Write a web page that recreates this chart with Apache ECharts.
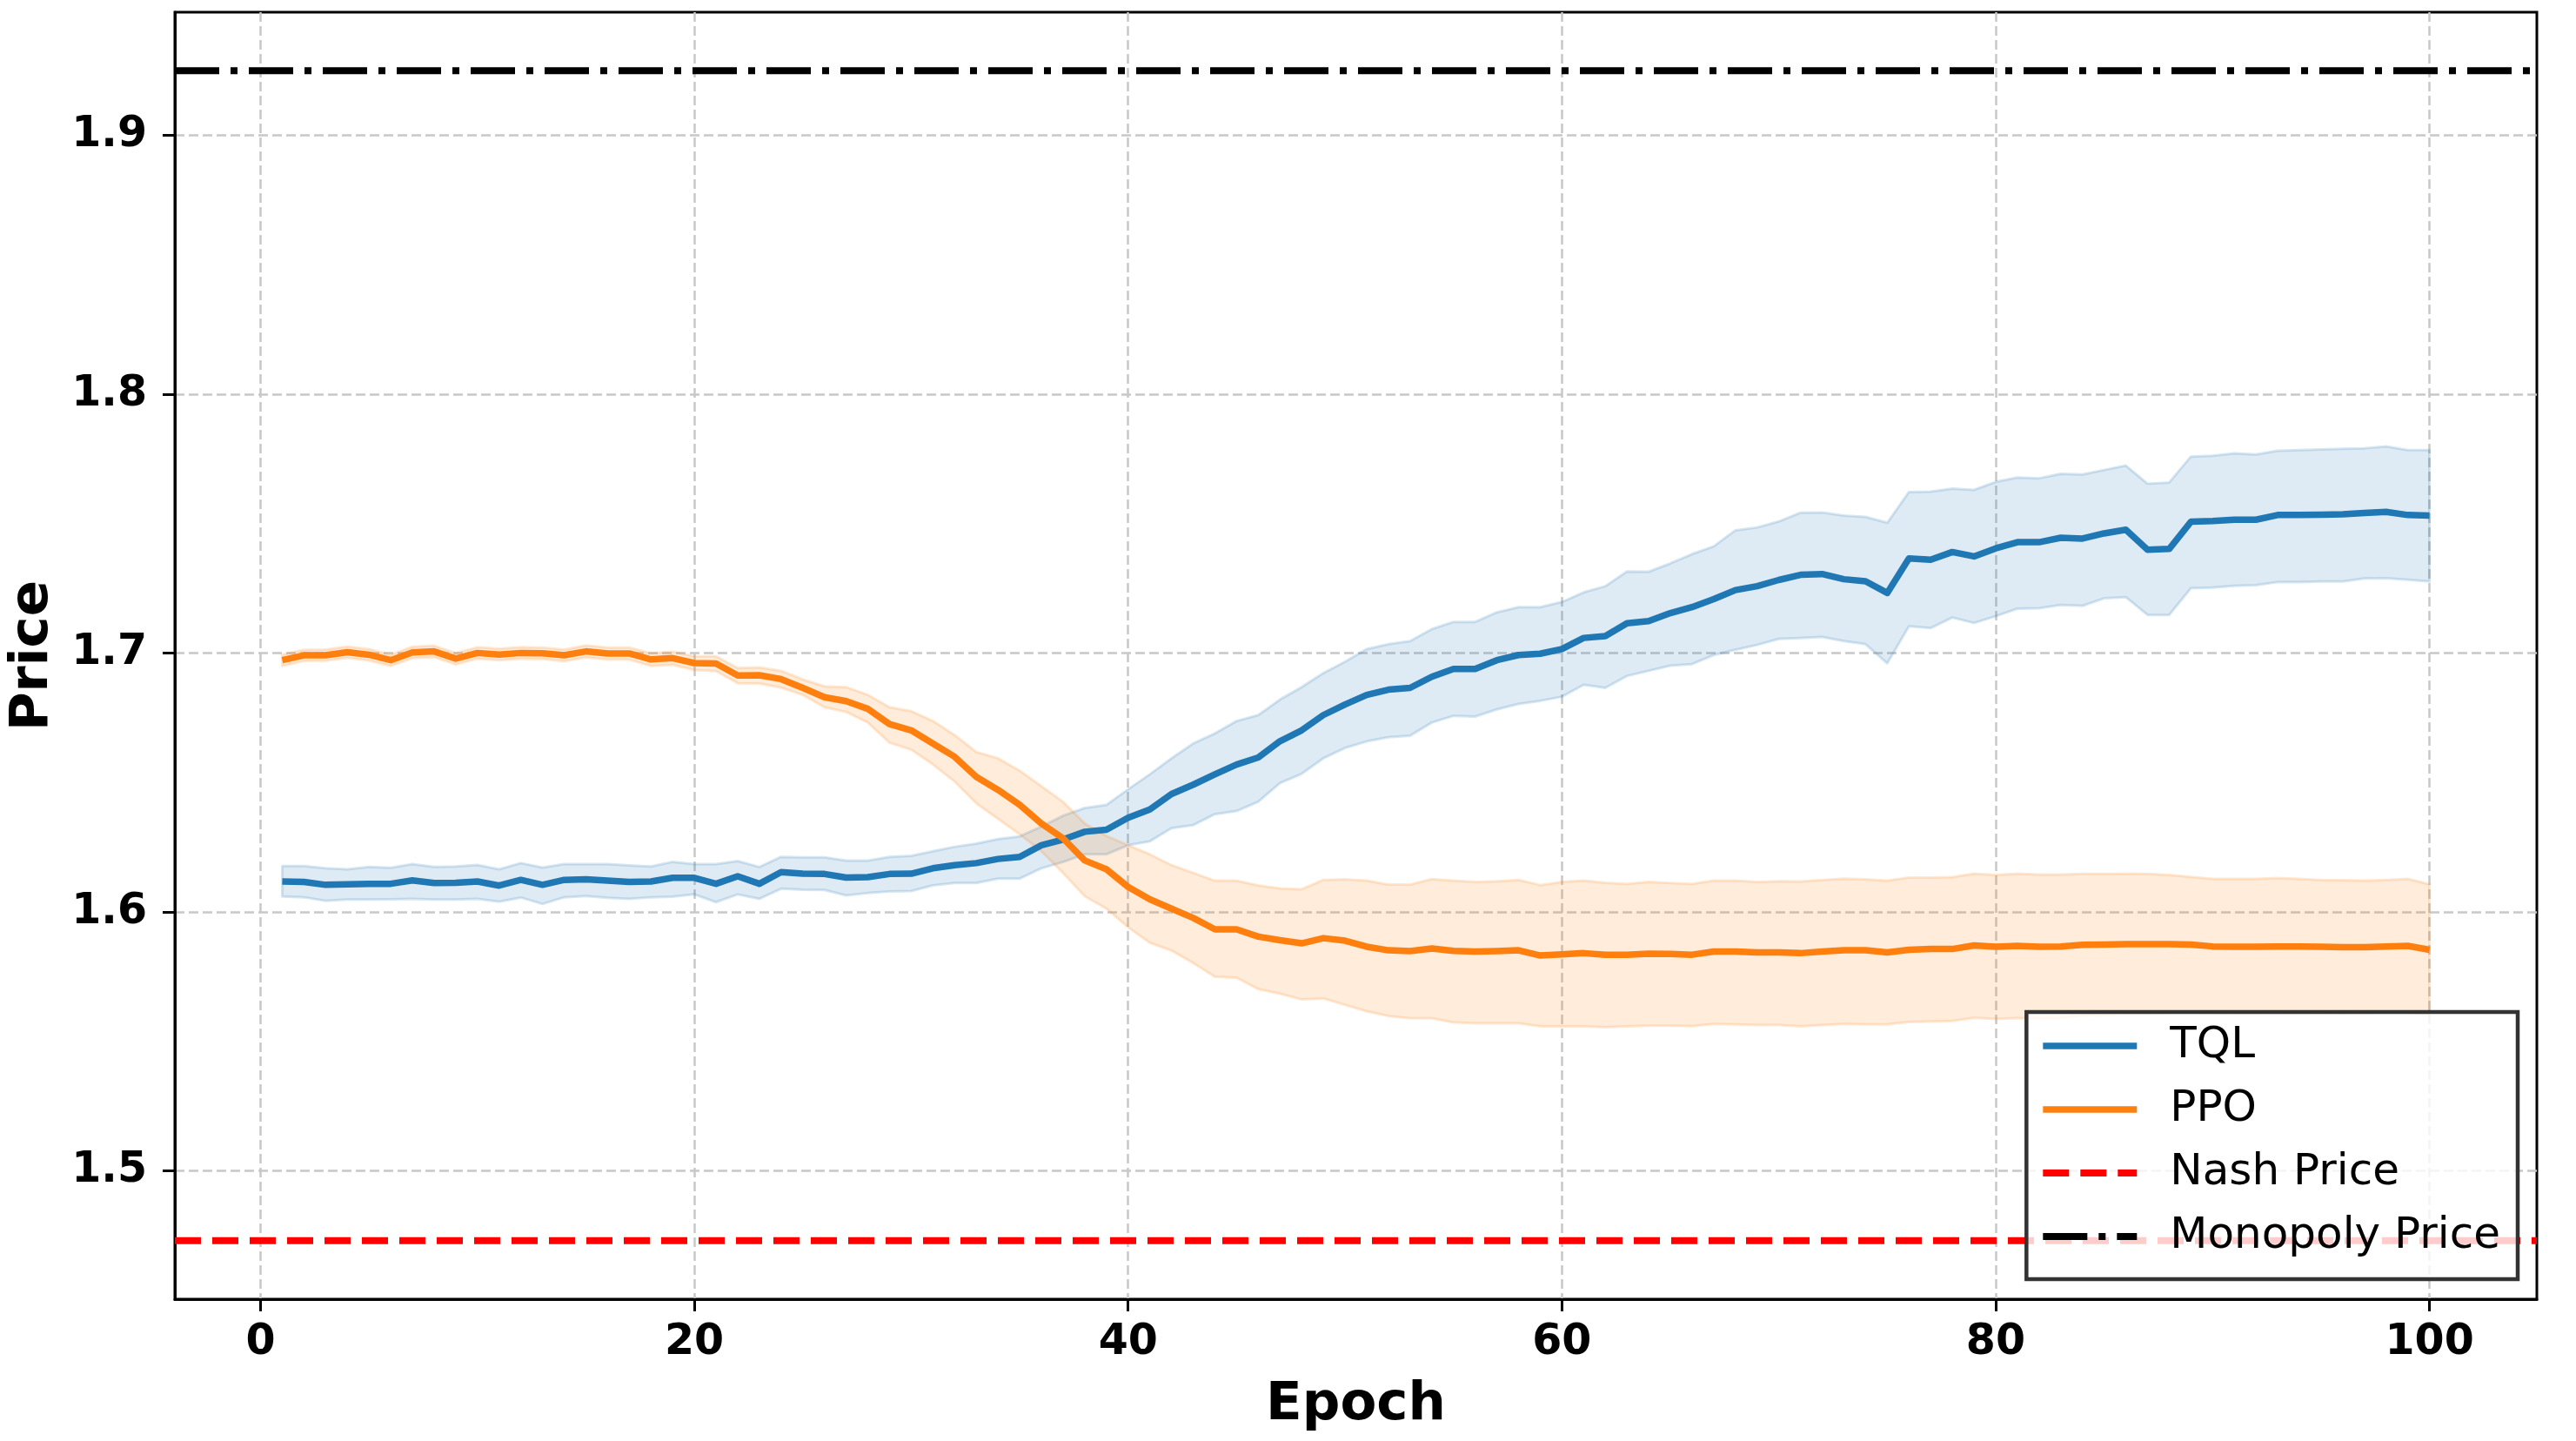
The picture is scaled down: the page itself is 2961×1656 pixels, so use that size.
<!DOCTYPE html>
<html><head><meta charset="utf-8">
<script src="https://cdn.jsdelivr.net/npm/echarts@6/dist/echarts.min.js"></script>
<style>html,body{margin:0;padding:0;background:#fff;overflow:hidden}#c{width:2961px;height:1656px}</style>
</head><body><div id="c"></div>
<script>
const EPOCHS = Array.from({length: 100}, (_, i) => i + 1);
const X_TICKS = [0, 20, 40, 60, 80, 100];
const Y_TICKS = [1.5, 1.6, 1.7, 1.8, 1.9];
const NASH = 1.4729;
const MONOPOLY = 1.9250;

const TQL_MEAN = [
1.6117,1.6115,1.6104,1.6106,1.6108,1.6108,1.6121,1.6111,1.6112,1.6117,
1.6101,1.6123,1.6104,1.6123,1.6125,1.6120,1.6115,1.6117,1.6131,1.6131,
1.6108,1.6137,1.6108,1.6153,1.6147,1.6146,1.6132,1.6134,1.6146,1.6147,
1.6168,1.6180,1.6188,1.6204,1.6212,1.6257,1.6279,1.6309,1.6317,1.6363,
1.6395,1.6455,1.6491,1.6531,1.6569,1.6596,1.6659,1.6701,1.6760,1.6801,
1.6838,1.6858,1.6865,1.6908,1.6938,1.6938,1.6972,1.6992,1.6997,1.7015,
1.7058,1.7065,1.7115,1.7123,1.7154,1.7177,1.7208,1.7243,1.7258,1.7282,
1.7302,1.7305,1.7285,1.7277,1.7232,1.7365,1.7360,1.7390,1.7373,1.7404,
1.7428,1.7428,1.7445,1.7442,1.7462,1.7476,1.7399,1.7402,1.7507,1.7510,
1.7515,1.7515,1.7533,1.7533,1.7534,1.7536,1.7541,1.7545,1.7533,1.7531];
const TQL_UPPER = [
1.6177,1.6177,1.6168,1.6164,1.6173,1.6170,1.6184,1.6173,1.6175,1.6181,
1.6164,1.6188,1.6171,1.6184,1.6184,1.6184,1.6179,1.6175,1.6193,1.6184,
1.6184,1.6196,1.6173,1.6212,1.6210,1.6210,1.6198,1.6198,1.6212,1.6216,
1.6234,1.6251,1.6263,1.6281,1.6291,1.6329,1.6371,1.6401,1.6413,1.6473,
1.6531,1.6593,1.6650,1.6689,1.6737,1.6760,1.6820,1.6868,1.6922,1.6966,
1.7015,1.7034,1.7046,1.7092,1.7120,1.7120,1.7157,1.7177,1.7177,1.7197,
1.7234,1.7258,1.7315,1.7314,1.7346,1.7382,1.7412,1.7474,1.7485,1.7508,
1.7542,1.7543,1.7531,1.7526,1.7503,1.7622,1.7623,1.7635,1.7630,1.7661,
1.7678,1.7675,1.7692,1.7690,1.7707,1.7724,1.7654,1.7659,1.7759,1.7762,
1.7771,1.7767,1.7781,1.7784,1.7786,1.7789,1.7791,1.7798,1.7784,1.7784];
const TQL_LOWER = [
1.6059,1.6056,1.6042,1.6047,1.6047,1.6048,1.6050,1.6047,1.6047,1.6050,
1.6039,1.6055,1.6030,1.6056,1.6061,1.6054,1.6050,1.6056,1.6058,1.6067,
1.6037,1.6067,1.6050,1.6089,1.6085,1.6084,1.6063,1.6072,1.6078,1.6080,
1.6102,1.6111,1.6111,1.6128,1.6128,1.6168,1.6192,1.6222,1.6222,1.6257,
1.6272,1.6323,1.6335,1.6377,1.6389,1.6425,1.6497,1.6533,1.6593,1.6633,
1.6658,1.6674,1.6680,1.6731,1.6757,1.6754,1.6782,1.6803,1.6815,1.6831,
1.6877,1.6865,1.6911,1.6931,1.6951,1.6957,1.6992,1.7012,1.7031,1.7054,
1.7058,1.7062,1.7046,1.7034,1.6960,1.7103,1.7096,1.7137,1.7116,1.7142,
1.7171,1.7173,1.7185,1.7182,1.7211,1.7216,1.7147,1.7147,1.7250,1.7253,
1.7259,1.7262,1.7274,1.7274,1.7276,1.7276,1.7288,1.7289,1.7283,1.7276];

const PPO_MEAN = [
1.6972,1.6991,1.6991,1.7003,1.6993,1.6972,1.7002,1.7006,1.6978,1.7000,
1.6994,1.7000,1.6999,1.6991,1.7006,1.6998,1.6998,1.6975,1.6980,1.6961,
1.6959,1.6913,1.6914,1.6899,1.6865,1.6829,1.6814,1.6784,1.6725,1.6701,
1.6650,1.6599,1.6521,1.6471,1.6413,1.6341,1.6284,1.6198,1.6164,1.6096,
1.6048,1.6012,1.5976,1.5932,1.5932,1.5904,1.5890,1.5878,1.5898,1.5888,
1.5865,1.5851,1.5848,1.5858,1.5849,1.5846,1.5848,1.5851,1.5831,1.5835,
1.5840,1.5834,1.5834,1.5838,1.5837,1.5834,1.5846,1.5846,1.5843,1.5843,
1.5840,1.5846,1.5851,1.5851,1.5843,1.5853,1.5856,1.5856,1.5870,1.5865,
1.5868,1.5865,1.5866,1.5872,1.5873,1.5875,1.5875,1.5875,1.5873,1.5866,
1.5865,1.5865,1.5866,1.5866,1.5865,1.5863,1.5863,1.5866,1.5868,1.5853];
const PPO_UPPER = [
1.6994,1.7012,1.7013,1.7025,1.7015,1.6993,1.7024,1.7028,1.7000,1.7022,
1.7016,1.7022,1.7021,1.7013,1.7029,1.7021,1.7021,1.6999,1.7005,1.6987,
1.6987,1.6942,1.6944,1.6931,1.6898,1.6871,1.6868,1.6838,1.6790,1.6775,
1.6737,1.6683,1.6617,1.6593,1.6545,1.6485,1.6425,1.6341,1.6293,1.6257,
1.6222,1.6180,1.6150,1.6120,1.6120,1.6102,1.6090,1.6087,1.6123,1.6125,
1.6120,1.6105,1.6105,1.6126,1.6120,1.6115,1.6118,1.6123,1.6103,1.6115,
1.6120,1.6112,1.6108,1.6115,1.6111,1.6108,1.6120,1.6120,1.6115,1.6118,
1.6117,1.6123,1.6128,1.6125,1.6120,1.6132,1.6132,1.6134,1.6147,1.6142,
1.6147,1.6144,1.6144,1.6146,1.6146,1.6147,1.6146,1.6142,1.6135,1.6127,
1.6127,1.6127,1.6130,1.6127,1.6123,1.6122,1.6120,1.6123,1.6127,1.6106];
const PPO_LOWER = [
1.6950,1.6969,1.6970,1.6981,1.6971,1.6950,1.6980,1.6984,1.6956,1.6978,
1.6972,1.6978,1.6977,1.6968,1.6983,1.6975,1.6974,1.6950,1.6954,1.6934,
1.6930,1.6883,1.6882,1.6866,1.6838,1.6790,1.6772,1.6731,1.6653,1.6626,
1.6569,1.6503,1.6419,1.6359,1.6299,1.6234,1.6150,1.6060,1.6012,1.5940,
1.5880,1.5850,1.5802,1.5749,1.5745,1.5701,1.5683,1.5661,1.5665,1.5640,
1.5615,1.5597,1.5588,1.5588,1.5572,1.5569,1.5569,1.5569,1.5557,1.5557,
1.5557,1.5554,1.5557,1.5560,1.5560,1.5558,1.5566,1.5565,1.5562,1.5562,
1.5557,1.5562,1.5566,1.5565,1.5565,1.5574,1.5576,1.5578,1.5590,1.5586,
1.5589,1.5586,1.5588,1.5598,1.5600,1.5603,1.5604,1.5608,1.5611,1.5605,
1.5603,1.5603,1.5602,1.5605,1.5607,1.5604,1.5606,1.5609,1.5609,1.5600];

const X_MIN = -3.95, X_MAX = 104.95;
const Y_MIN = 1.4503, Y_MAX = 1.9476;

const FONT = 'DejaVu Sans';
const pairs = (ys) => EPOCHS.map((x, i) => [x, ys[i]]);

function bandSeries(lower, upper, rgb) {
  return {
    type: 'custom', silent: true, z: 1, clip: true, animation: false,
    data: EPOCHS.map((x, i) => [x, lower[i], upper[i]]),
    encode: { x: 0, y: [1, 2] },
    renderItem: (params, api) => {
      if (params.dataIndex !== 0) return null;
      const pts = [];
      for (let i = 0; i < EPOCHS.length; i++) pts.push(api.coord([EPOCHS[i], upper[i]]));
      for (let i = EPOCHS.length - 1; i >= 0; i--) pts.push(api.coord([EPOCHS[i], lower[i]]));
      return {
        type: 'polygon', shape: { points: pts },
        style: { fill: 'rgba(' + rgb + ',0.15)', stroke: 'rgba(' + rgb + ',0.18)', lineWidth: 3, lineJoin: 'round' }
      };
    }
  };
}

const gridStyle = { show: true, lineStyle: { color: '#c8c8c8', width: 2.5, type: [11, 5] } };

const option = {
  backgroundColor: '#ffffff',
  animation: false,
  grid: { left: 198, right: 45, top: 14, bottom: 163, show: true, borderColor: '#000', borderWidth: 3, backgroundColor: 'transparent', containLabel: false },
  xAxis: {
    type: 'value', min: X_MIN, max: X_MAX,
    name: 'Epoch', nameLocation: 'middle', nameGap: 92,
    nameTextStyle: { fontFamily: FONT, fontWeight: 'bold', fontSize: 61, color: '#000' },
    axisLine: { show: true, onZero: false, lineStyle: { color: '#000', width: 3 } },
    axisTick: { show: true, customValues: X_TICKS, length: 14, lineStyle: { color: '#000', width: 3 } },
    axisLabel: { show: true, customValues: X_TICKS, margin: 26, fontFamily: FONT, fontWeight: 'bold', fontSize: 49, color: '#000',
      formatter: v => String(Math.round(v)) },
    splitLine: gridStyle
  },
  yAxis: {
    type: 'value', min: Y_MIN, max: Y_MAX,
    name: 'Price', nameLocation: 'middle', nameGap: 132,
    nameTextStyle: { fontFamily: FONT, fontWeight: 'bold', fontSize: 61, color: '#000' },
    axisLine: { show: true, onZero: false, lineStyle: { color: '#000', width: 3 } },
    axisTick: { show: true, customValues: Y_TICKS, length: 14, lineStyle: { color: '#000', width: 3 } },
    axisLabel: { show: true, customValues: Y_TICKS, margin: 32, fontFamily: FONT, fontWeight: 'bold', fontSize: 49, color: '#000',
      formatter: v => v.toFixed(1) },
    splitLine: gridStyle
  },
  legend: {
    show: true, orient: 'vertical', right: 67, bottom: 186,
    data: ['TQL', 'PPO', 'Nash Price', 'Monopoly Price'],
    itemWidth: 108, itemHeight: 20, itemGap: 17,
    padding: [11, 20, 21, 15],
    backgroundColor: 'rgba(255,255,255,0.8)', borderColor: '#333333', borderWidth: 4.5, borderRadius: 0,
    lineStyle: { width: 'inherit' },
    itemStyle: { opacity: 0 },
    textStyle: { fontFamily: FONT, fontSize: 50, color: '#000', lineHeight: 56, padding: [0, 0, 0, 33] },
    selectedMode: false
  },
  series: [
    bandSeries(TQL_LOWER, TQL_UPPER, '31,119,180'),
    bandSeries(PPO_LOWER, PPO_UPPER, '255,127,14'),
    { name: 'TQL', type: 'line', data: pairs(TQL_MEAN), symbol: 'none', showSymbol: false, color: '#1f77b4',
      lineStyle: { color: '#1f77b4', width: 7.5, join: 'round' }, z: 3 },
    { name: 'PPO', type: 'line', data: pairs(PPO_MEAN), symbol: 'none', showSymbol: false, color: '#ff7f0e',
      lineStyle: { color: '#ff7f0e', width: 7.5, join: 'round' }, z: 3 },
    { name: 'Nash Price', type: 'line', data: [[X_MIN, NASH], [X_MAX, NASH]], symbol: 'none', showSymbol: false, color: '#ff0000',
      lineStyle: { color: '#ff0000', width: 8, type: [30, 13], cap: 'butt' }, z: 3 },
    { name: 'Monopoly Price', type: 'line', data: [[X_MIN, MONOPOLY], [X_MAX, MONOPOLY]], symbol: 'none', showSymbol: false, color: '#000000',
      lineStyle: { color: '#000000', width: 8, type: [51, 13, 8, 13], cap: 'butt' }, z: 3 }
  ]
};

const chart = echarts.init(document.getElementById('c'), null, { renderer: 'canvas' });
chart.setOption(option);
</script>
</body></html>
